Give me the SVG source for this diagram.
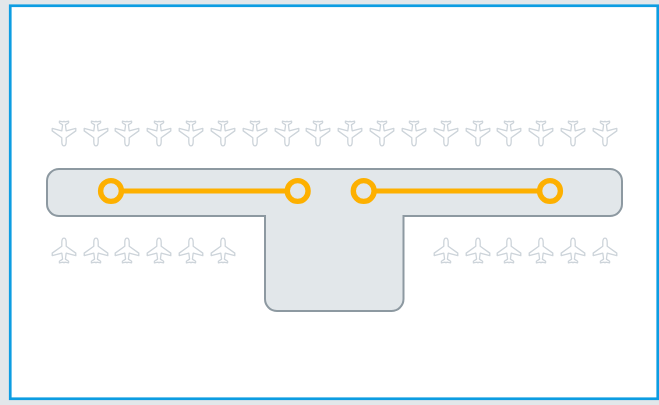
<svg xmlns="http://www.w3.org/2000/svg" xmlns:xlink="http://www.w3.org/1999/xlink" width="659" height="405" viewBox="0 0 659 405">
<style>
.bg{fill:#e2e7ea}
.frame{fill:#fff;stroke:#0d9de2;stroke-width:2.7}
.terminal{fill:#e2e7ea;stroke:#8d99a1;stroke-width:2}
.gate{fill:#e2e7ea;stroke:#fdb000;stroke-width:5.4}
.link{stroke:#fdb000;stroke-width:5;fill:none}
.plane{fill:#fff;stroke:#cdd4da;stroke-width:1.3;stroke-linejoin:round}
</style>
<defs>
<path id="p" class="plane" d="M0,-12.3C1.5,-12.3 2.2,-10 2.2,-8L2.2,-4.2L11.8,2.6V5.2L2.2,2.6L1.4,8.6L4.6,10.8V12.3L0.8,11.6L0,12.4L-0.8,11.6L-4.6,12.3V10.8L-1.4,8.6L-2.2,2.6L-11.8,5.2V2.6L-2.2,-4.2V-8C-2.2,-10 -1.5,-12.3 0,-12.3Z"/>
</defs>
<rect class="bg" width="659" height="405"/>
<rect class="frame" x="10.25" y="5.75" width="647.5" height="393"/>
<g id="planes-top">
<use xlink:href="#p" transform="translate(64,133.5) scale(1,-1)"/>
<use xlink:href="#p" transform="translate(96,133.5) scale(1,-1)"/>
<use xlink:href="#p" transform="translate(127,133.5) scale(1,-1)"/>
<use xlink:href="#p" transform="translate(159,133.5) scale(1,-1)"/>
<use xlink:href="#p" transform="translate(191,133.5) scale(1,-1)"/>
<use xlink:href="#p" transform="translate(223,133.5) scale(1,-1)"/>
<use xlink:href="#p" transform="translate(255,133.5) scale(1,-1)"/>
<use xlink:href="#p" transform="translate(287,133.5) scale(1,-1)"/>
<use xlink:href="#p" transform="translate(318,133.5) scale(1,-1)"/>
<use xlink:href="#p" transform="translate(350,133.5) scale(1,-1)"/>
<use xlink:href="#p" transform="translate(382,133.5) scale(1,-1)"/>
<use xlink:href="#p" transform="translate(414,133.5) scale(1,-1)"/>
<use xlink:href="#p" transform="translate(446,133.5) scale(1,-1)"/>
<use xlink:href="#p" transform="translate(478,133.5) scale(1,-1)"/>
<use xlink:href="#p" transform="translate(509,133.5) scale(1,-1)"/>
<use xlink:href="#p" transform="translate(541,133.5) scale(1,-1)"/>
<use xlink:href="#p" transform="translate(573,133.5) scale(1,-1)"/>
<use xlink:href="#p" transform="translate(605,133.5) scale(1,-1)"/>
</g>
<g id="planes-bottom">
<use xlink:href="#p" transform="translate(64,250.5)"/>
<use xlink:href="#p" transform="translate(96,250.5)"/>
<use xlink:href="#p" transform="translate(127,250.5)"/>
<use xlink:href="#p" transform="translate(159,250.5)"/>
<use xlink:href="#p" transform="translate(191,250.5)"/>
<use xlink:href="#p" transform="translate(223,250.5)"/>
<use xlink:href="#p" transform="translate(446,250.5)"/>
<use xlink:href="#p" transform="translate(478,250.5)"/>
<use xlink:href="#p" transform="translate(509,250.5)"/>
<use xlink:href="#p" transform="translate(541,250.5)"/>
<use xlink:href="#p" transform="translate(573,250.5)"/>
<use xlink:href="#p" transform="translate(605,250.5)"/>
</g>
<g id="terminal">
<path class="terminal" d="M59,169H610A12,12 0 0 1 622,181V204A12,12 0 0 1 610,216H403.5V299A12,12 0 0 1 391.5,311H277A12,12 0 0 1 265,299V216H59A12,12 0 0 1 47,204V181A12,12 0 0 1 59,169Z"/>
</g>
<g id="connectors">
<line class="link" x1="111" y1="191" x2="298" y2="191"/>
<line class="link" x1="364" y1="191" x2="550" y2="191"/>
</g>
<g id="gate-1"><circle class="gate" cx="111" cy="191" r="10.4"/></g>
<g id="gate-2"><circle class="gate" cx="297.7" cy="191" r="10.4"/></g>
<g id="gate-3"><circle class="gate" cx="363.7" cy="191" r="10.4"/></g>
<g id="gate-4"><circle class="gate" cx="550" cy="191" r="10.4"/></g>
</svg>
